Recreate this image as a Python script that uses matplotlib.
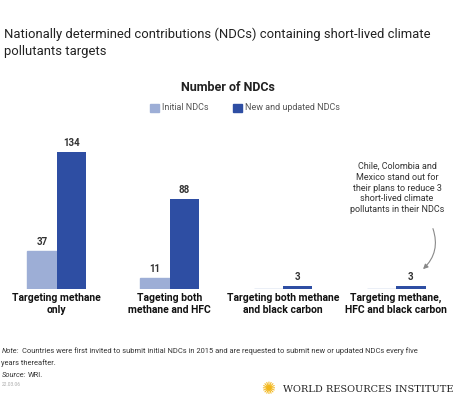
import matplotlib
matplotlib.use("Agg")
import matplotlib.pyplot as plt
from matplotlib.patches import FancyArrowPatch

plt.rcParams['font.family'] = ['Roboto', 'DejaVu Sans']

categories = ["Targeting methane\nonly", "Tageting both\nmethane and HFC",
              "Targeting both methane\nand black carbon", "Targeting methane,\nHFC and black carbon"]
initial = [37, 11, 0, 0]
updated = [134, 88, 3, 3]
initial_labels = ["37", "11", "", ""]
light = "#9daed6"
dark = "#2e4ea3"

fig = plt.figure(figsize=(4.55, 4.19), dpi=100)
ax = fig.add_axes([0, 1 - 289/419, 1, (289-100)/419])
x = range(len(categories))
w = 0.26
ax.bar([i - w/2 for i in x], initial, width=w, color=light, edgecolor=light, linewidth=1.0)
ax.bar([i + w/2 for i in x], updated, width=w, color=dark)
for i in x:
    if initial_labels[i]:
        ax.text(i - w/2, initial[i] + 4, initial_labels[i], ha='center', va='bottom', fontsize=7, fontweight='bold', color='#333333')
    ax.text(i + w/2, updated[i] + 4, str(updated[i]), ha='center', va='bottom', fontsize=7, fontweight='bold', color='#333333')
ax.set_xlim(-0.5, 3.52)
ax.set_ylim(0, 185)
ax.axis('off')
for i, c in enumerate(categories):
    ax.text(i, -4, c, ha='center', va='top', fontsize=7.5, fontweight='bold', color='#111111', linespacing=1.2)

fig.text(0.008, 0.935, "Nationally determined contributions (NDCs) containing short-lived climate\npollutants targets",
         fontsize=9.4, va='top', ha='left', color='#222222', linespacing=1.45)
fig.text(0.5, 0.79, "Number of NDCs", fontsize=9, fontweight='bold', ha='center', va='center', color='#222222')
# legend
fig.patches.append(plt.Rectangle((150/455, 1-112/419), 9/455, 8/419, transform=fig.transFigure, color=light))
fig.text(162/455, 1-108/419, "Initial NDCs", fontsize=6.5, va='center', color='#555555')
fig.patches.append(plt.Rectangle((233/455, 1-112/419), 9/455, 8/419, transform=fig.transFigure, color=dark))
fig.text(245/455, 1-108/419, "New and updated NDCs", fontsize=6.5, va='center', color='#555555')

fig.text(397/455, 1-188/419, "Chile, Colombia and\nMexico stand out for\ntheir plans to reduce 3\nshort-lived climate\npollutants in their NDCs",
         fontsize=6.5, ha='center', va='center', color='#333333', linespacing=1.25)
arr = FancyArrowPatch((432/455, 1-226/419), (421/455, 1-271/419), transform=fig.transFigure,
                      connectionstyle="arc3,rad=-0.35", arrowstyle='-|>', mutation_scale=7, color='#888888', lw=0.8)
fig.patches.append(arr)

fig.text(0.003, 1-351/419, "Note:", fontsize=5.4, style='italic', va='center', ha='left', color='#333333')
fig.text(0.048, 1-351/419, "Countries were first invited to submit initial NDCs in 2015 and are requested to submit new or updated NDCs every five",
         fontsize=5.4, va='center', ha='left', color='#333333')
fig.text(0.003, 1-363/419, "years thereafter.", fontsize=5.4, va='center', ha='left', color='#333333')
fig.text(0.003, 1-375/419, "Source:", fontsize=5.4, style='italic', va='center', color='#333333')
fig.text(0.062, 1-375/419, "WRI.", fontsize=5.4, va='center', color='#333333')
fig.text(0.003, 1-384/419, "22.03.06", fontsize=3.5, va='center', color='#aaaaaa')
fig.text(268/455, 1-389/419, "✺", fontsize=12, va='center', ha='center', color='#f2b619', family=['DejaVu Sans'])
fig.text(283/455, 1-389/419, "WORLD RESOURCES INSTITUTE", fontsize=7.0, va='center', ha='left', color='#222222', family=['DejaVu Serif'])
fig.savefig("out.png", dpi=100)
